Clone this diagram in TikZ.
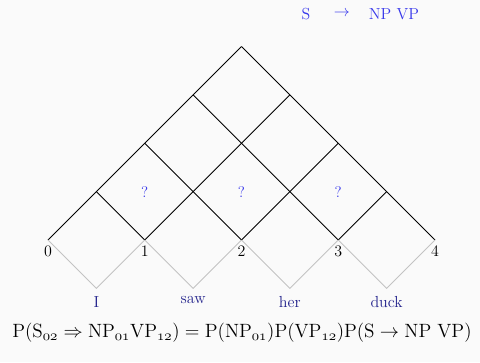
\documentclass[tikz,border=0pt]{standalone}
\usetikzlibrary{positioning,calc}

\definecolor{pagebg}{RGB}{250,250,250}
\definecolor{ruleblue}{RGB}{55,55,235}
\definecolor{wordnavy}{RGB}{35,35,140}
\definecolor{lowgray}{RGB}{195,195,195}

% old-style digits for span indices
\newcommand{\spanidx}[1]{\oldstylenums{#1}}

\begin{document}
\begin{tikzpicture}[
    x=0.75pt, y=0.75pt,
    font=\fontsize{12}{14}\selectfont,
    chartline/.style={draw=black, line width=0.65pt},
    wordline/.style={draw=lowgray, line width=0.6pt},
    idx/.style={below=3pt, inner sep=1pt},
    word/.style={text=wordnavy, below=5pt, inner sep=1pt},
    qmark/.style={text=ruleblue, font=\fontsize{11.5}{13}\selectfont}
]

\fill[pagebg] (0,0) rectangle (480,362);
\useasboundingbox (0,0) rectangle (480,362);

% apex of the cell for span (i,j); p-i-i are the positions between words
\foreach \i in {0,...,4}{
  \foreach \j in {\i,...,4}{
    \coordinate (p-\i-\j) at ({48+96.75*(\i+\j)/2}, {122+96.75*(\j-\i)/2});
  }
}

% the chart
\foreach \i in {0,...,3}
  \draw[chartline] (p-\i-\i) -- (p-\i-4);
\foreach \j in {1,...,4}
  \draw[chartline] (p-\j-\j) -- (p-0-\j);

% word cells underneath
\foreach \i/\w [count=\n from 1] in {0/I,1/saw,2/her,3/duck}{
  \coordinate (w-\i) at ($(p-\i-\i)!0.5!(p-\n-\n)+(0,-48.375)$);
  \draw[wordline] (p-\i-\i) -- (w-\i) -- (p-\n-\n);
  \node[word] (word-\i) at (w-\i) {\w};
}

% positions
\foreach \i in {0,...,4}
  \node[idx] (pos-\i) at (p-\i-\i) {\i};

% spans of length two
\foreach \i [count=\n from 1] in {0,1,2}
  \node[qmark] (q-\i) at ($(p-\n-\n)+(0,48.375)$) {?};

% rule in use
\node[text=ruleblue] (lhs) at (306,348) {S};
\node[text=ruleblue] (arr) at (342,348) {$\rightarrow$};
\node[text=ruleblue] (rhs) at (394,348) {NP VP};

\node[font=\fontsize{15}{17}\selectfont] (prob) at (242,29)
{$\mathrm{P}(\mathrm{S}_{\spanidx{02}} \Rightarrow \mathrm{NP}_{\spanidx{01}}\mathrm{VP}_{\spanidx{12}}) = \mathrm{P}(\mathrm{NP}_{\spanidx{01}})\mathrm{P}(\mathrm{VP}_{\spanidx{12}})\mathrm{P}(\mathrm{S} \rightarrow \mathrm{NP}\ \mathrm{VP})$};

\end{tikzpicture}
\end{document}
